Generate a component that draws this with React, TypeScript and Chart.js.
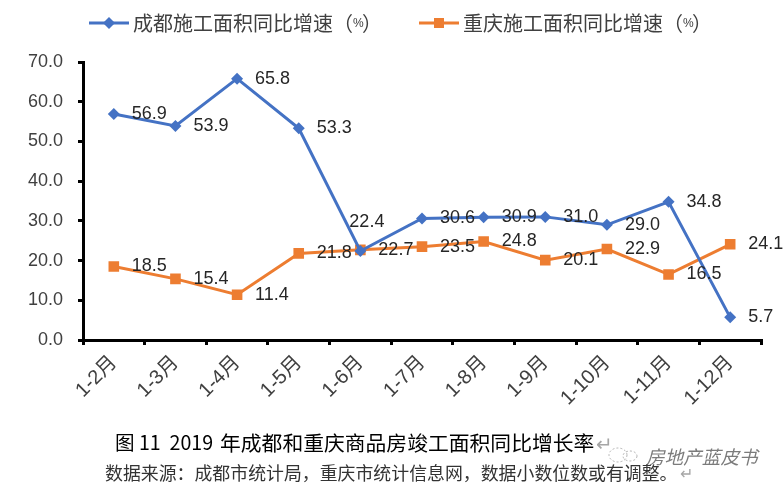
import React, { useEffect, useRef } from "react";
import { Chart, registerables } from "chart.js";

Chart.register(...registerables);

const categories = ["1-2月", "1-3月", "1-4月", "1-5月", "1-6月", "1-7月", "1-8月", "1-9月", "1-10月", "1-11月", "1-12月"];
const chengduValues = [56.9, 53.9, 65.8, 53.3, 22.4, 30.6, 30.9, 31.0, 29.0, 34.8, 5.7];
const chongqingValues = [18.5, 15.4, 11.4, 21.8, 22.7, 23.5, 24.8, 20.1, 22.9, 16.5, 24.1];
const chengduName = "成都施工面积同比增速";
const chongqingName = "重庆施工面积同比增速";
const captionPrefix = "图 11  2019 ";
const captionBody = "年成都和重庆商品房竣工面积同比增长率";
const sourceText = "数据来源：成都市统计局，重庆市统计信息网，数据小数位数或有调整。";
const watermarkText = "房地产蓝皮书";

const BLUE = "#4472C4";
const ORANGE = "#ED7D31";
const TEXT = "#404040";
const LATIN = '"Liberation Sans", "Noto Sans CJK SC", sans-serif';
const CJK = '"Noto Sans CJK SC", sans-serif';

const drawExtras = {
  id: "drawExtras",
  afterDatasetsDraw(chart: any) {
    const { ctx } = chart;
    ctx.save();
    ctx.textBaseline = "middle";
    ctx.textAlign = "left";
    ctx.font = `18px ${LATIN}`;
    ctx.fillStyle = "#262626";
    chart.data.datasets.forEach((ds: any, di: number) => {
      const meta = chart.getDatasetMeta(di);
      meta.data.forEach((pt: any, i: number) => {
        const above = di === 0 && i === 4;
        const x = above ? pt.x - 11 : pt.x + 18;
        const y = above ? pt.y - 29 : pt.y;
        ctx.fillText(ds.data[i].toFixed(1), x, y);
      });
    });
    // legend
    const items = [
      { x: 89, ds: chart.data.datasets[0], style: "rectRot", r: 6 },
      { x: 419, ds: chart.data.datasets[1], style: "rect", r: 6 },
    ];
    items.forEach(({ x, ds, style, r }) => {
      ctx.strokeStyle = ds.borderColor;
      ctx.fillStyle = ds.borderColor;
      ctx.lineWidth = 3;
      ctx.beginPath();
      ctx.moveTo(x, 23);
      ctx.lineTo(x + 40, 23);
      ctx.stroke();
      const cx = x + 20;
      if (style === "rect") ctx.fillRect(cx - 5, 18, 10, 10);
      else {
        ctx.beginPath();
        ctx.moveTo(cx - r, 23);
        ctx.lineTo(cx, 23 - r);
        ctx.lineTo(cx + r, 23);
        ctx.lineTo(cx, 23 + r);
        ctx.closePath();
        ctx.fill();
      }
      ctx.fillStyle = TEXT;
      ctx.font = `20px ${CJK}`;
      const tx = x + 44;
      ctx.fillText(ds.label, tx, 23);
      ctx.fillText("（", tx + 200, 23);
      ctx.font = `12px ${LATIN}`;
      ctx.fillText("%", tx + 220, 24);
      ctx.font = `20px ${CJK}`;
      ctx.fillText("）", tx + 229, 23);
    });
    // caption and source
    ctx.fillStyle = "#000000";
    ctx.font = `400 19.6px ${CJK}`;
    ctx.fillText(captionPrefix, 115, 443);
    ctx.font = `400 20.8px ${CJK}`;
    ctx.fillText(captionBody, 220, 443);
    ctx.fillStyle = "#A6A6A6";
    ctx.font = `20px ${CJK}`;
    ctx.fillText("↵", 596, 443);
    ctx.fillStyle = "#333333";
    ctx.font = `17.9px ${CJK}`;
    ctx.fillText(sourceText, 105, 473);
    ctx.fillStyle = "#A6A6A6";
    ctx.font = `16px ${CJK}`;
    ctx.fillText("↵", 680, 473);
    ctx.fillStyle = "rgba(90,90,90,0.8)";
    ctx.font = `italic 18.6px ${CJK}`;
    ctx.fillText(watermarkText, 646, 457);
    ctx.strokeStyle = "rgba(150,150,150,0.7)";
    ctx.lineWidth = 1;
    ctx.setLineDash([2, 2]);
    ctx.beginPath();
    ctx.ellipse(618, 455, 9, 7, 0, 0, Math.PI * 2);
    ctx.stroke();
    ctx.beginPath();
    ctx.ellipse(630, 456, 7, 5, 0, 0, Math.PI * 2);
    ctx.stroke();
    ctx.restore();
  },
};

export default function App() {
  const ref = useRef<HTMLCanvasElement>(null);
  useEffect(() => {
    if (!ref.current) return;
    const chart = new Chart(ref.current, {
      type: "line",
      data: {
        labels: categories,
        datasets: [
          {
            label: chengduName,
            data: chengduValues,
            borderColor: BLUE,
            backgroundColor: BLUE,
            borderWidth: 3,
            pointStyle: "rectRot",
            pointRadius: 6,
            pointBorderWidth: 0,
            tension: 0,
          },
          {
            label: chongqingName,
            data: chongqingValues,
            borderColor: ORANGE,
            backgroundColor: ORANGE,
            borderWidth: 3,
            pointStyle: "rect",
            pointRadius: 7.5,
            pointBorderWidth: 0,
            tension: 0,
          },
        ],
      },
      options: {
        responsive: false,
        animation: false,
        layout: { padding: { top: 62, right: 23, left: 0, bottom: 0 } },
        plugins: { legend: { display: false }, tooltip: { enabled: false } },
        scales: {
          x: {
            type: "category",
            offset: true,
            afterFit(scale: any) {
              scale.height = 150;
            },
            grid: { drawOnChartArea: false, offset: true, color: "#000", lineWidth: 3, tickLength: 5 },
            border: { color: "#000", width: 3 },
            ticks: {
              color: TEXT,
              font: { size: 20, family: LATIN },
              minRotation: 45,
              maxRotation: 45,
              autoSkip: false,
              padding: 6,
            },
          },
          y: {
            min: 0,
            max: 70,
            afterFit(scale: any) {
              scale.width = 83;
            },
            grid: { drawOnChartArea: false, color: "#000", lineWidth: 3, tickLength: 5 },
            border: { color: "#000", width: 3 },
            ticks: {
              stepSize: 10,
              color: TEXT,
              font: { size: 18, family: LATIN },
              padding: 15,
              callback: (v: any) => Number(v).toFixed(1),
            },
          },
        },
      },
      plugins: [drawExtras],
    } as any);
    return () => chart.destroy();
  }, []);
  return (
    <div style={{ position: "absolute", left: 0, top: 0, width: 784, height: 490, background: "#fff" }}>
      <canvas ref={ref} width={784} height={490} style={{ display: "block" }} />
    </div>
  );
}
